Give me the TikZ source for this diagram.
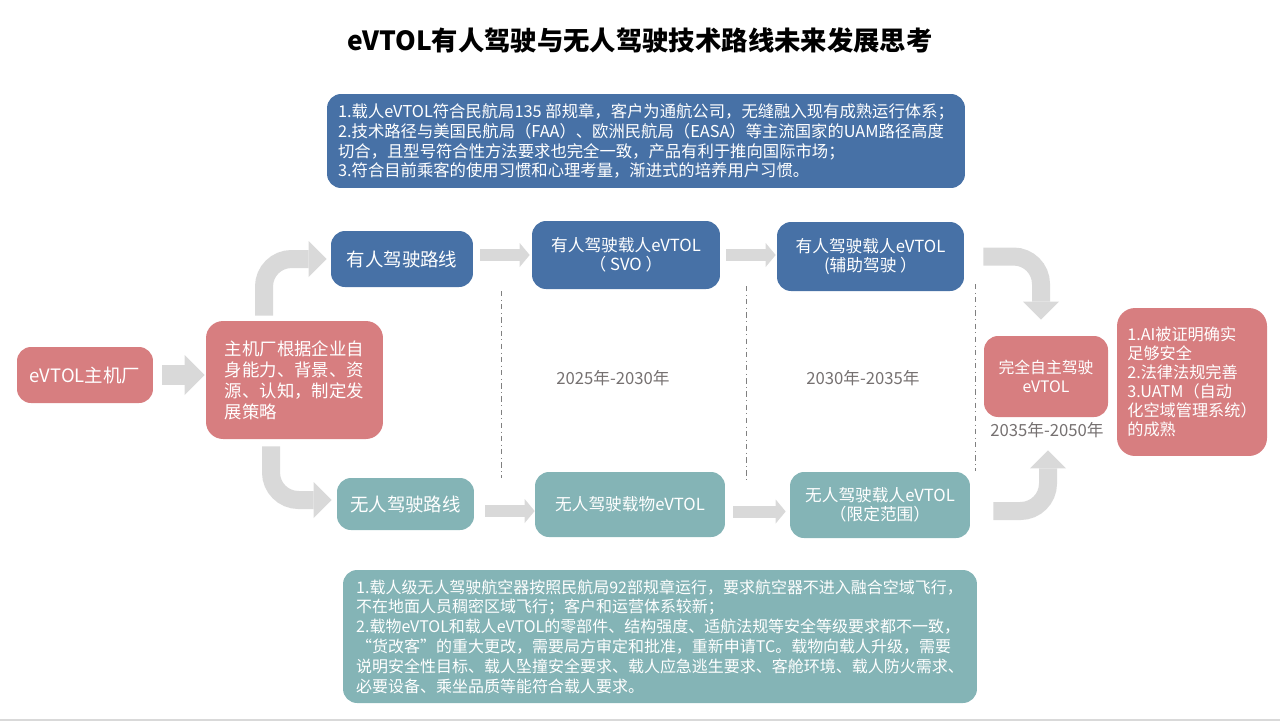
\documentclass[tikz,border=0pt]{standalone}
\usepackage{fontspec}
\setmainfont{Noto Sans CJK SC}
\usepackage{tikz}
\usetikzlibrary{arrows.meta,calc}

\definecolor{boxblue}{RGB}{71,113,166}
\definecolor{boxteal}{RGB}{132,180,182}
\definecolor{boxpink}{RGB}{215,126,128}
\definecolor{arrowgray}{RGB}{217,217,217}
\definecolor{yeargray}{RGB}{118,113,113}
\definecolor{sepgray}{RGB}{128,128,128}

\begin{document}
\begin{tikzpicture}[x=0.02cm, y=-0.02cm,
    box/.style={rounded corners=0.28cm, text=white, inner sep=0pt, align=center},
    bigarrow/.style={draw=arrowgray, line width=0.36cm, rounded corners=0.55cm,
        -{Triangle[length=0.36cm,width=0.72cm,line width=0pt]}},
    smallarrow/.style={draw=arrowgray, line width=0.24cm,
        -{Triangle[length=0.2cm,width=0.48cm,line width=0pt]}},
    sepline/.style={draw=sepgray, line width=0.5pt, dash dot},
    year/.style={text=yeargray, font=\fontsize{9.5}{11}\selectfont}]
    \useasboundingbox (0,0) rectangle (1280,721);

    \node[font=\bfseries\fontsize{15}{18}\selectfont] (title) at (640,40)
        {eVTOL有人驾驶与无人驾驶技术路线未来发展思考};

    % notes above and below
    \node[box, fill=boxblue, align=left, minimum width=12.76cm, minimum height=1.88cm,
        font=\fontsize{9.3}{11.3}\selectfont] (mannednote) at (646,141)
        {1.载人eVTOL符合民航局135 部规章，客户为通航公司，无缝融入现有成熟运行体系；\\
         2.技术路径与美国民航局（FAA）、欧洲民航局（EASA）等主流国家的UAM路径高度\\
         切合，且型号符合性方法要求也完全一致，产品有利于推向国际市场；\\
         3.符合目前乘客的使用习惯和心理考量，渐进式的培养用户习惯。};
    \node[box, fill=boxteal, align=left, minimum width=12.68cm, minimum height=2.66cm,
        font=\fontsize{9.1}{11.3}\selectfont] (unmannednote) at (660,636.5)
        {1.载人级无人驾驶航空器按照民航局92部规章运行，要求航空器不进入融合空域飞行，\\
         不在地面人员稠密区域飞行；客户和运营体系较新；\\
         2.载物eVTOL和载人eVTOL的零部件、结构强度、适航法规等安全等级要求都不一致，\\
         “货改客”的重大更改，需要局方审定和批准，重新申请TC。载物向载人升级，需要\\
         说明安全性目标、载人坠撞安全要求、载人应急逃生要求、客舱环境、载人防火需求、\\
         必要设备、乘坐品质等能符合载人要求。};

    % start
    \node[box, fill=boxpink, minimum width=2.72cm, minimum height=1.12cm,
        font=\fontsize{10.5}{12}\selectfont] (oem) at (85,375) {eVTOL主机厂};
    \node[box, fill=boxpink, align=left, minimum width=3.54cm, minimum height=2.36cm,
        rounded corners=0.34cm, font=\fontsize{9.9}{11.9}\selectfont] (strategy) at (294.5,380)
        {主机厂根据企业自\\身能力、背景、资\\源、认知，制定发\\展策略};

    % two routes
    \node[box, fill=boxblue, minimum width=2.84cm, minimum height=1.12cm,
        font=\fontsize{10.5}{12}\selectfont] (manned) at (402,259) {有人驾驶路线};
    \node[box, fill=boxteal, minimum width=2.74cm, minimum height=1.04cm,
        font=\fontsize{10.5}{12}\selectfont] (unmanned) at (405.5,504) {无人驾驶路线};

    \node[box, fill=boxblue, minimum width=3.76cm, minimum height=1.36cm,
        font=\fontsize{9.5}{11}\selectfont] (svo) at (626,255) {有人驾驶载人eVTOL\\（ SVO ）};
    \node[box, fill=boxblue, minimum width=3.74cm, minimum height=1.38cm,
        font=\fontsize{9.5}{11}\selectfont] (assist) at (870.5,256.5) {有人驾驶载人eVTOL\\(辅助驾驶 ）};
    \node[box, fill=boxteal, minimum width=3.8cm, minimum height=1.3cm,
        font=\fontsize{9.5}{11}\selectfont] (cargo) at (630,504.5) {无人驾驶载物eVTOL};
    \node[box, fill=boxteal, minimum width=3.6cm, minimum height=1.32cm,
        font=\fontsize{9.5}{11}\selectfont] (limited) at (880,505) {无人驾驶载人eVTOL\\（限定范围）};

    % goal
    \node[box, fill=boxpink, minimum width=2.48cm, minimum height=1.62cm,
        font=\fontsize{9}{10.8}\selectfont] (auto) at (1046,376.5) {完全自主驾驶\\eVTOL};
    \node[box, fill=boxpink, align=left, minimum width=3cm, minimum height=2.96cm,
        rounded corners=0.36cm, font=\fontsize{9.2}{10.8}\selectfont] (reasons) at (1192,382)
        {1.AI被证明确实\\足够安全\\2.法律法规完善\\3.UATM（自动\\化空域管理系统）\\的成熟};

    % years
    \node[year] (year1) at (613,378) {2025年-2030年};
    \node[year] (year2) at (863,378) {2030年-2035年};
    \node[year] (year3) at (1047,430) {2035年-2050年};
    \draw[sepline] (501,291) -- (501,478);
    \draw[sepline] (746,286) -- (746,482);
    \draw[sepline] (975,284) -- (975,471);

    % arrows
    \draw[bigarrow, line width=0.4cm, -{Triangle[length=0.4cm,width=0.8cm,line width=0pt]}]
        ([xshift=0.18cm]oem.east) -- ([xshift=-0.02cm]oem.east -| strategy.west);
    \draw[bigarrow] ([xshift=-0.61cm,yshift=0.1cm]strategy.north) |- ([xshift=-0.08cm]manned.west);
    \draw[bigarrow] ([xshift=-0.47cm,yshift=-0.14cm]strategy.south) |- ([xshift=-0.1cm,yshift=0.08cm]unmanned.west);
    \draw[smallarrow] ([xshift=0.14cm]svo.west -| manned.east) -- ([xshift=-0.04cm]svo.west);
    \draw[smallarrow] ([xshift=0.12cm]svo.east) -- ([xshift=-0.02cm]svo.east -| assist.west);
    \draw[smallarrow] ([xshift=0.22cm,yshift=-0.14cm]unmanned.east) -- ([yshift=-0.14cm]unmanned.east -| cargo.west);
    \draw[smallarrow] ([xshift=0.16cm,yshift=-0.14cm]cargo.east) -- ([xshift=-0.08cm,yshift=-0.14cm]cargo.east -| limited.west);
    \draw[bigarrow] ([xshift=0.38cm]assist.east) -| ([xshift=-0.1cm,yshift=0.32cm]auto.north);
    \draw[bigarrow] ([xshift=0.46cm,yshift=-0.12cm]limited.east) -| ([xshift=0.04cm,yshift=-0.66cm]auto.south);

    \draw[arrowgray, line width=0.04cm] (0,720) -- (1280,720);
\end{tikzpicture}
\end{document}
